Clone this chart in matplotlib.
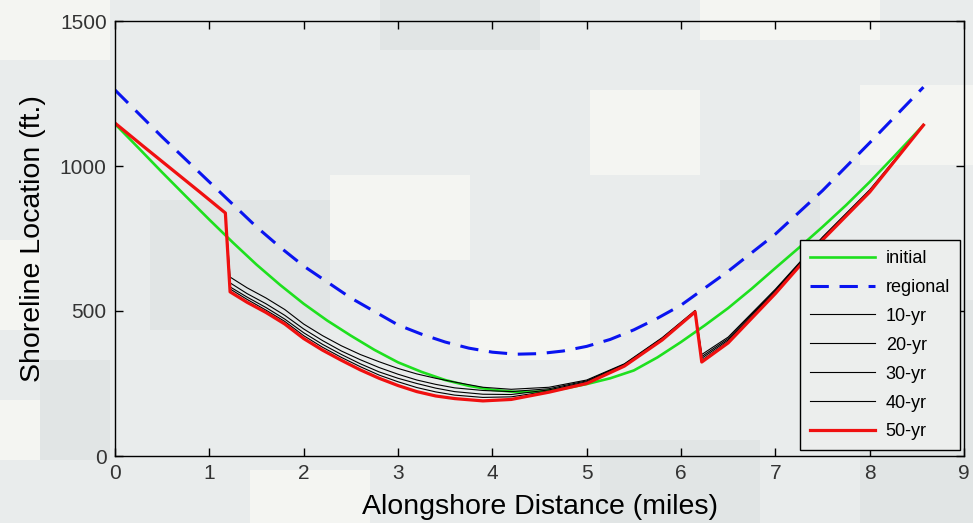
import matplotlib
matplotlib.use("Agg")
import matplotlib.pyplot as plt
from matplotlib.patches import Rectangle

# ---------------- data ----------------
x_regional = [0, 0.5, 1.0, 1.5, 1.75, 2.0, 2.5, 3.0, 3.25, 3.5, 3.75, 4.0, 4.25, 4.5, 4.75,
              5.0, 5.25, 5.5, 5.75, 6.0, 6.5, 7.0, 7.5, 8.0, 8.57]
y_regional = [1262, 1100, 945, 790, 720, 655, 545, 452, 420, 393, 372, 358, 351, 353, 362,
              378, 402, 435, 475, 520, 637, 765, 915, 1080, 1272]

x_initial = [0, 0.25, 0.5, 0.75, 1.0, 1.25, 1.5, 1.75, 2.0, 2.25, 2.5, 2.75, 3.0, 3.25, 3.5,
             3.75, 4.0, 4.25, 4.5, 4.75, 5.0, 5.25, 5.5, 5.75, 6.0, 6.25, 6.5, 6.75, 7.0,
             7.25, 7.5, 7.75, 8.0, 8.25, 8.57]
y_initial = [1145, 1062, 978, 896, 815, 736, 660, 590, 525, 467, 415, 366, 323, 290, 262,
             242, 228, 221, 222, 232, 248, 268, 295, 340, 393, 450, 510, 577, 648,
             718, 790, 865, 945, 1030, 1141]

x_sim = [0, 0.3, 0.6, 0.9, 1.17, 1.22, 1.4, 1.6, 1.8, 2.0, 2.2, 2.4, 2.6, 2.8, 3.0, 3.2, 3.4,
         3.6, 3.9, 4.2, 4.6, 5.0, 5.4, 5.8, 6.15, 6.22, 6.5, 7.0, 7.5, 8.0, 8.57]
y_10yr = [1148, 1068, 989, 910, 838, 617, 580, 545, 505, 455, 415, 380, 350, 325, 302, 283, 268,
          255, 237, 230, 237, 262, 318, 408, 502, 350, 410, 575, 755, 918, 1141]
y_20yr = [1148, 1068, 989, 910, 838, 597, 560, 525, 485, 438, 398, 362, 332, 305, 282, 262, 247,
          235, 226, 222, 232, 259, 316, 406, 500, 343, 405, 572, 752, 915, 1141]
y_30yr = [1148, 1068, 989, 910, 838, 583, 548, 512, 472, 425, 385, 350, 318, 290, 268, 250, 234,
          222, 213, 212, 228, 256, 314, 404, 499, 337, 400, 568, 750, 913, 1141]
y_40yr = [1148, 1068, 989, 910, 838, 576, 540, 503, 464, 415, 375, 340, 308, 279, 256, 236, 221,
          210, 202, 204, 224, 253, 312, 402, 498, 330, 395, 565, 748, 912, 1141]
y_50yr = [1148, 1068, 989, 910, 838, 566, 530, 495, 455, 405, 365, 330, 297, 268, 243, 222, 207,
          198, 190, 195, 220, 250, 310, 400, 497, 324, 390, 560, 745, 910, 1141]

x_ticks = [0, 1, 2, 3, 4, 5, 6, 7, 8, 9]
y_ticks = [0, 500, 1000, 1500]
legend_labels = ["initial", "regional", "10-yr", "20-yr", "30-yr", "40-yr", "50-yr"]

# ---------------- figure ----------------
plt.rcParams['font.family'] = ['Liberation Sans', 'DejaVu Sans']
W, H = 973, 523
fig = plt.figure(figsize=(W / 100, H / 100), dpi=100)
fig.patch.set_facecolor('#e9ecec')

# camouflage-like background blocks (figure pixel coords, origin top-left)
light = '#f4f5f2'
dark = '#e1e5e5'
blocks = [
    (0, 0, 110, 60, light), (0, 240, 40, 90, light), (590, 90, 110, 85, light),
    (330, 175, 140, 85, light), (860, 85, 113, 80, light), (470, 300, 120, 60, light),
    (700, 0, 180, 40, light), (250, 470, 120, 53, light), (0, 400, 60, 60, light),
    (150, 200, 180, 130, dark), (40, 360, 70, 100, dark), (600, 440, 160, 83, dark),
    (860, 300, 113, 223, dark), (380, 0, 160, 50, dark), (720, 180, 100, 90, dark),
]
for bx, by, bw, bh, c in blocks:
    fig.add_artist(Rectangle((bx / W, 1 - (by + bh) / H), bw / W, bh / H,
                             transform=fig.transFigure, facecolor=c,
                             edgecolor='none', zorder=-10))

ax = fig.add_axes([115 / W, 1 - 456 / H, (964 - 115) / W, (456 - 21) / H])
ax.patch.set_alpha(0)

ax.plot(x_initial, y_initial, color='#1ee01e', lw=1.9, label=legend_labels[0])
ln, = ax.plot(x_regional, y_regional, color='#0a14f0', lw=2.2, ls='--', label=legend_labels[1])
ln.set_dashes((6, 3.5))
for ys, lab in zip([y_10yr, y_20yr, y_30yr, y_40yr], legend_labels[2:6]):
    ax.plot(x_sim, ys, color='black', lw=0.8, label=lab)
ax.plot(x_sim, y_50yr, color='#f01010', lw=2.3, label=legend_labels[6])

ax.set_xlim(0, 9)
ax.set_ylim(0, 1500)
ax.set_xticks(x_ticks)
ax.set_yticks(y_ticks)
ax.tick_params(direction='in', length=6, width=1, top=True, right=True,
               labelsize=15, labelcolor='#333333', pad=6)
for s in ax.spines.values():
    s.set_linewidth(1.0)
    s.set_color('black')

ax.set_xlabel("Alongshore Distance (miles)", fontsize=20.5, labelpad=8)
ax.set_ylabel("Shoreline Location (ft.)", fontsize=20.5, labelpad=10)

leg = ax.legend(loc='upper right', bbox_to_anchor=(960 / W, 1 - 240 / H),
                bbox_transform=fig.transFigure, fontsize=13, frameon=True,
                fancybox=False, edgecolor='black', facecolor='#eceeed',
                framealpha=1, handlelength=3.6, labelspacing=0.66,
                borderpad=0.55, handletextpad=0.6, borderaxespad=0)
leg.get_frame().set_linewidth(1.0)

fig.savefig("out.png", dpi=100, facecolor=fig.get_facecolor())
